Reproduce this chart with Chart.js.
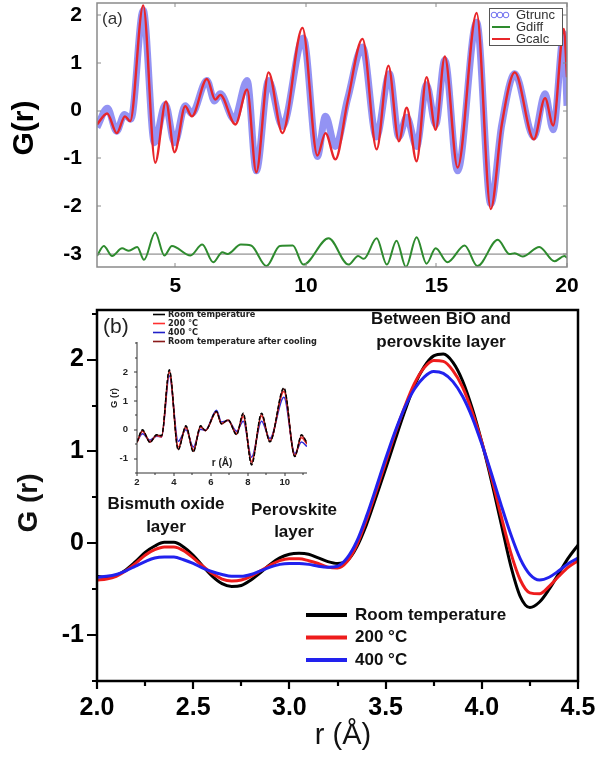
<!DOCTYPE html>
<html><head><meta charset="utf-8">
<script src="https://cdn.jsdelivr.net/npm/chart.js@4"></script>
<style>
html,body{margin:0;padding:0;background:#fff;}
#wrap{position:relative;width:598px;height:763px;overflow:hidden;background:#fff}
canvas{position:absolute;}
</style></head><body>
<div id="wrap">
<canvas id="ca" width="598" height="300" style="left:0;top:0;width:598px;height:300px"></canvas>
<canvas id="cb" width="598" height="463" style="left:0;top:300px;width:598px;height:463px"></canvas>
<canvas id="ci" width="215" height="190" style="left:100px;top:305px;width:215px;height:190px"></canvas>
</div>
<script>
// ---------- Panel (a) data ----------
const calcR = [2.0,2.39,2.76,3.07,3.27,3.77,4.23,4.64,4.97,5.38,5.63,6.21,6.53,6.72,7.30,7.75,8.10,8.57,9.10,9.87,10.44,10.75,11.13,11.6,12.17,12.71,13.16,13.56,13.86,14.24,14.62,14.97,15.32,15.81,16.54,17.08,17.5,18.0,18.73,19.16,19.47,19.88,20.0];
const calcG = [-0.29,-0.06,-0.47,-0.12,-0.22,2.2,-1.09,0.19,-0.87,0.09,-0.12,0.66,0.23,0.33,-0.29,0.44,-1.29,0.80,-0.47,1.73,-0.94,-0.47,-1.02,0.2,1.50,-0.81,0.94,-0.64,0.06,-1.06,0.70,-0.40,1.13,-1.19,2.04,-2.06,-0.3,0.80,-0.60,0.26,-0.31,1.71,0.7];
const truncR = [2.0,2.4,2.75,3.05,3.3,3.77,4.2,4.62,4.97,5.38,5.63,6.21,6.5,6.72,7.25,7.75,8.10,8.57,9.10,9.9,10.44,10.75,11.13,11.6,12.17,12.7,13.2,13.56,13.86,14.24,14.62,14.97,15.32,15.81,16.54,17.08,17.5,18.0,18.73,19.16,19.47,19.88,20.0];
const truncG = [-0.35,0.05,-0.43,-0.08,-0.18,2.1,-0.67,0.13,-0.67,0.1,-0.06,0.63,0.2,0.35,-0.18,0.63,-1.26,0.63,-0.33,1.52,-0.96,-0.12,-0.75,0.25,1.33,-0.55,0.77,-0.55,-0.14,-0.75,0.54,-0.29,1.06,-1.26,1.85,-1.95,-0.3,0.77,-0.55,0.35,-0.40,1.6,0.1];
const diffR = [2.0,2.26,2.58,2.96,3.22,3.54,3.8,4.23,4.58,4.87,5.58,6.03,6.45,6.8,7.0,7.51,7.9,8.49,9.0,9.5,9.9,10.87,11.63,12.0,12.22,12.71,13.1,13.47,13.83,14.24,14.62,14.97,15.42,16.08,16.57,17.35,17.8,18.0,18.3,18.94,19.52,19.9,20.0];
const diffG = [-3.04,-2.83,-3.04,-2.88,-2.93,-2.85,-3.12,-2.55,-3.03,-2.83,-3.03,-2.8,-3.17,-2.96,-3.0,-2.8,-2.82,-3.25,-2.83,-2.82,-3.22,-2.67,-3.22,-3.04,-3.1,-2.67,-3.22,-2.72,-3.27,-2.65,-3.2,-2.88,-3.17,-2.82,-3.25,-2.7,-3.0,-2.98,-3.05,-2.85,-3.15,-3.04,-3.08];
const baseLineG = -3.0;
const aXTicks = [5,10,15,20];
const aYTicks = [-3,-2,-1,0,1,2];
const aLegend = ['Gtrunc','Gdiff','Gcalc'];

// ---------- Panel (b) data ----------
const rB = [2.00,2.05,2.10,2.15,2.20,2.25,2.30,2.35,2.40,2.45,2.50,2.55,2.60,2.65,2.70,2.75,2.80,2.85,2.90,2.95,3.00,3.05,3.10,3.15,3.20,3.25,3.30,3.35,3.40,3.45,3.50,3.55,3.60,3.65,3.70,3.75,3.80,3.85,3.90,3.95,4.00,4.05,4.10,4.15,4.20,4.25,4.30,4.35,4.40,4.45,4.50];
const gRT  = [-0.36,-0.37,-0.35,-0.29,-0.20,-0.10,-0.03,0.01,0.01,-0.04,-0.13,-0.25,-0.36,-0.44,-0.47,-0.46,-0.40,-0.32,-0.23,-0.16,-0.12,-0.11,-0.12,-0.16,-0.20,-0.22,-0.19,-0.04,0.20,0.50,0.81,1.13,1.44,1.72,1.92,2.04,2.06,1.97,1.77,1.47,1.10,0.68,0.22,-0.24,-0.58,-0.70,-0.64,-0.50,-0.33,-0.16,-0.02];
const g200 = [-0.40,-0.39,-0.36,-0.30,-0.22,-0.13,-0.07,-0.04,-0.04,-0.08,-0.16,-0.25,-0.33,-0.39,-0.41,-0.40,-0.36,-0.30,-0.24,-0.19,-0.17,-0.17,-0.19,-0.22,-0.26,-0.27,-0.20,-0.02,0.25,0.56,0.88,1.20,1.49,1.74,1.91,1.99,1.98,1.88,1.70,1.43,1.10,0.72,0.30,-0.10,-0.40,-0.54,-0.55,-0.47,-0.36,-0.26,-0.19];
const g400 = [-0.37,-0.36,-0.34,-0.30,-0.25,-0.20,-0.16,-0.15,-0.15,-0.18,-0.22,-0.27,-0.31,-0.34,-0.36,-0.36,-0.34,-0.30,-0.26,-0.23,-0.22,-0.22,-0.23,-0.25,-0.26,-0.25,-0.16,0.02,0.29,0.60,0.92,1.22,1.48,1.68,1.81,1.87,1.85,1.76,1.60,1.37,1.08,0.76,0.42,0.10,-0.17,-0.34,-0.40,-0.37,-0.30,-0.22,-0.16];
const bXTicks = [2.0,2.5,3.0,3.5,4.0,4.5];
const bXMinor = [2.25,2.75,3.25,3.75,4.25];
const bYTicks = [-1,0,1,2];
const bYMinor = [-1.5,-0.5,0.5,1.5,2.5];
const bLegend = ['Room temperature','200 \u00B0C','400 \u00B0C'];

// ---------- Inset data ----------
const insR    = [2.0,2.3,2.7,3.06,3.33,3.75,4.23,4.65,5.05,5.44,5.7,6.3,6.57,6.93,7.39,7.75,8.2,8.74,9.19,9.95,10.54,10.9,11.2];
const insRT   = [-0.42,0.0,-0.44,-0.17,-0.2,2.09,-0.70,0.14,-0.77,0.14,-0.02,0.64,0.21,0.35,-0.17,0.58,-1.22,0.58,-0.42,1.46,-0.93,-0.17,-0.45];
const ins200  = [-0.44,-0.05,-0.41,-0.2,-0.25,2.0,-0.6,0.08,-0.7,0.1,-0.03,0.62,0.22,0.33,-0.12,0.45,-1.1,0.48,-0.38,1.33,-0.9,-0.28,-0.5];
const ins400  = [-0.4,-0.14,-0.36,-0.22,-0.25,1.88,-0.4,0.0,-0.6,0.02,-0.02,0.68,0.27,0.32,-0.05,0.3,-0.95,0.3,-0.3,1.13,-0.82,-0.42,-0.58];
const insCool = [-0.43,-0.02,-0.43,-0.18,-0.22,2.05,-0.68,0.12,-0.75,0.12,-0.03,0.63,0.2,0.34,-0.16,0.55,-1.18,0.55,-0.41,1.42,-0.92,-0.2,-0.47];
const iXTicks = [2,4,6,8,10];
const iXMinor = [3,5,7,9,11];
const iYTicks = [-1,0,1,2];
const iYMinor = [-1.5,-0.5,0.5,1.5,2.5,3];
const iLegend = ['Room temperature','200 \u00B0C','400 \u00B0C','Room temperature after cooling'];

const F = "'Liberation Sans', Arial, Helvetica, sans-serif";
const FD = "'DejaVu Sans', 'Liberation Sans', sans-serif";
const pts = (xs, ys) => xs.map((x,i)=>({x:x, y:ys[i]}));

function fixTicks(vals){ return s => { s.ticks = vals.map(v=>({value:v})); }; }
function text(ctx, s, x, y, font, color, align, rot){
  ctx.save(); ctx.font = font; ctx.fillStyle = color; ctx.textAlign = align||'center'; ctx.textBaseline='middle';
  ctx.translate(x,y); if(rot) ctx.rotate(rot); ctx.fillText(s,0,0); ctx.restore();
}
function marks(chart, axis, vals, len, side, color, lw){
  const ca = chart.chartArea, ctx = chart.ctx, s = chart.scales[axis];
  ctx.save(); ctx.strokeStyle = color; ctx.lineWidth = lw; ctx.beginPath();
  vals.forEach(v=>{
    const p = Math.round(s.getPixelForValue(v));
    if(side==='bottom'){ctx.moveTo(p,ca.bottom);ctx.lineTo(p,ca.bottom+len);}
    if(side==='top'){ctx.moveTo(p,ca.top);ctx.lineTo(p,ca.top+len);}
    if(side==='left'){ctx.moveTo(ca.left,p);ctx.lineTo(ca.left+len,p);}
    if(side==='right'){ctx.moveTo(ca.right,p);ctx.lineTo(ca.right+len,p);}
  });
  ctx.stroke(); ctx.restore();
}
function noPad(s){ s.paddingLeft=0; s.paddingRight=0; s.paddingTop=0; s.paddingBottom=0; }
const NOGRID = {display:false, drawTicks:false, tickLength:0};

// ================= Panel (a) =================
new Chart(document.getElementById('ca'), {
  type:'line',
  data:{datasets:[
    {label:'Gcalc', data:pts(calcR,calcG), borderColor:'#e8262a', borderWidth:2.4, pointRadius:0, cubicInterpolationMode:'monotone', order:1},
    {label:'Gdiff', data:pts(diffR,diffG), borderColor:'#2e8b2e', borderWidth:2, pointRadius:0, cubicInterpolationMode:'monotone', order:2},
    {label:'base', data:[{x:2,y:baseLineG},{x:20,y:baseLineG}], borderColor:'#777', borderWidth:1, pointRadius:0, order:3},
    {label:'Gtrunc', data:pts(truncR,truncG), borderColor:'rgba(75,75,235,0.6)', borderWidth:7, pointRadius:0, cubicInterpolationMode:'monotone', order:4}
  ]},
  options:{
    responsive:false, animation:false, events:[],
    layout:{padding:{left:0,right:31,top:3,bottom:0}},
    plugins:{legend:{display:false}, tooltip:{enabled:false}},
    scales:{
      x:{type:'linear', min:2, max:20, afterBuildTicks:fixTicks(aXTicks),
         afterFit:s=>{s.height=33; noPad(s);},
         grid:NOGRID, border:{display:false},
         ticks:{font:{family:F,size:21,weight:'bold'}, color:'#000', padding:7, maxRotation:0, autoSkip:false}},
      y:{type:'linear', min:-3.27, max:2.25, afterBuildTicks:fixTicks(aYTicks),
         afterFit:s=>{s.width=97; noPad(s);},
         grid:NOGRID, border:{display:false},
         ticks:{font:{family:F,size:21,weight:'bold'}, color:'#000', padding:15, autoSkip:false}}
    }
  },
  plugins:[{id:'decoA', afterDraw(chart){
    const ctx = chart.ctx, ca = chart.chartArea;
    ctx.save(); ctx.strokeStyle='#8a8a8a'; ctx.lineWidth=1.5;
    ctx.strokeRect(ca.left, ca.top, ca.right-ca.left, ca.bottom-ca.top); ctx.restore();
    marks(chart,'x',aXTicks,-4,'bottom','#8a8a8a',1);
    marks(chart,'x',aXTicks,4,'top','#8a8a8a',1);
    marks(chart,'y',aYTicks,4,'left','#8a8a8a',1);
    marks(chart,'y',aYTicks,-4,'right','#8a8a8a',1);
    text(ctx,'(a)',102,19,'17px '+F,'#333','left');
    text(ctx,'G(r)',25,128,'bold 30px '+F,'#000','center',-Math.PI/2);
    ctx.save(); ctx.fillStyle='#fff'; ctx.fillRect(489,8,73,37);
    ctx.strokeStyle='#555'; ctx.lineWidth=1; ctx.strokeRect(489.5,8.5,73,37); ctx.restore();
    const ds = chart.data.datasets;
    ctx.save(); ctx.strokeStyle='rgba(75,75,235,0.8)'; ctx.lineWidth=1;
    [494,500,506].forEach(cx=>{ctx.beginPath();ctx.arc(cx,15,2.8,0,Math.PI*2);ctx.stroke();});
    ctx.strokeStyle=ds[1].borderColor; ctx.lineWidth=2; ctx.beginPath(); ctx.moveTo(492,27); ctx.lineTo(510,27); ctx.stroke();
    ctx.strokeStyle=ds[0].borderColor; ctx.lineWidth=2; ctx.beginPath(); ctx.moveTo(492,39); ctx.lineTo(510,39); ctx.stroke();
    ctx.restore();
    aLegend.forEach((t,i)=>text(ctx,t,516,15+12*i,'13px '+F,'#333','left'));
  }}]
});

// ================= Panel (b) =================
new Chart(document.getElementById('cb'), {
  type:'line',
  data:{datasets:[
    {label:bLegend[2], data:pts(rB,g400), borderColor:'#2222ee', borderWidth:3, pointRadius:0, cubicInterpolationMode:'monotone'},
    {label:bLegend[1], data:pts(rB,g200), borderColor:'#ee1c1c', borderWidth:3, pointRadius:0, cubicInterpolationMode:'monotone'},
    {label:bLegend[0], data:pts(rB,gRT), borderColor:'#000000', borderWidth:3, pointRadius:0, cubicInterpolationMode:'monotone'}
  ]},
  options:{
    responsive:false, animation:false, events:[],
    layout:{padding:{left:0,right:20,top:10,bottom:0}},
    plugins:{legend:{display:false}, tooltip:{enabled:false}},
    scales:{
      x:{type:'linear', min:2, max:4.5, afterBuildTicks:fixTicks(bXTicks),
         afterFit:s=>{s.height=82; noPad(s);},
         grid:NOGRID, border:{display:false},
         ticks:{font:{family:F,size:25,weight:'bold'}, color:'#000', padding:12, maxRotation:0, autoSkip:false, callback:v=>v.toFixed(1)}},
      y:{type:'linear', min:-1.5, max:2.54, afterBuildTicks:fixTicks(bYTicks),
         afterFit:s=>{s.width=97; noPad(s);},
         grid:NOGRID, border:{display:false},
         ticks:{font:{family:F,size:25,weight:'bold'}, color:'#000', padding:13, autoSkip:false}}
    }
  },
  plugins:[{id:'decoB', afterDraw(chart){
    const ctx = chart.ctx, ca = chart.chartArea;
    ctx.save(); ctx.strokeStyle='#000'; ctx.lineWidth=2.5;
    ctx.strokeRect(ca.left, ca.top, ca.right-ca.left, ca.bottom-ca.top); ctx.restore();
    marks(chart,'x',bXTicks,8,'bottom','#000',2.2);
    marks(chart,'x',bXMinor,5,'bottom','#000',2.2);
    marks(chart,'y',bYTicks,-10,'left','#000',2.2);
    marks(chart,'y',bYMinor,-5,'left','#000',2.2);
    text(ctx,'(b)',103,27,'21px '+F,'#222','left');
    const B = 'bold 17px '+F;
    text(ctx,'Between BiO and',441,19,B,'#111');
    text(ctx,'perovskite layer',441,42,B,'#111');
    text(ctx,'Bismuth oxide',166,204,B,'#111');
    text(ctx,'layer',166,227,B,'#111');
    text(ctx,'Perovskite',294,210,B,'#111');
    text(ctx,'layer',294,232,B,'#111');
    text(ctx,'G (r)',29,203,'bold 28px '+F,'#111','center',-Math.PI/2);
    text(ctx,'r (\u00C5)',343,436,'29px '+F,'#111','center');
    const ds = chart.data.datasets;
    const order = [2,1,0];
    order.forEach((di,i)=>{
      const y = 315 + 22.5*i;
      ctx.save(); ctx.strokeStyle=ds[di].borderColor; ctx.lineWidth=4;
      ctx.beginPath(); ctx.moveTo(306,y); ctx.lineTo(347,y); ctx.stroke(); ctx.restore();
      text(ctx,bLegend[i],355,y,B,'#111','left');
    });
    const iCol = ['#000','#ff3030','#2020c8','#8b1a1a'];
    const iy = [14.5,23.5,32.5,41.5];
    iLegend.forEach((t,i)=>{
      ctx.save(); ctx.strokeStyle=iCol[i]; ctx.lineWidth=1.6;
      ctx.beginPath(); ctx.moveTo(153,iy[i]); ctx.lineTo(165,iy[i]); ctx.stroke(); ctx.restore();
      text(ctx,t,168,iy[i],'bold 8.2px '+FD,'#222','left');
    });
  }}]
});

// ================= Inset =================
new Chart(document.getElementById('ci'), {
  type:'line',
  data:{datasets:[
    {label:iLegend[0], data:pts(insR,insRT), borderColor:'#000', borderWidth:1.4, pointRadius:0, cubicInterpolationMode:'monotone', borderDash:[4,2]},
    {label:iLegend[3], data:pts(insR,insCool), borderColor:'#8b1a1a', borderWidth:1.5, pointRadius:0, cubicInterpolationMode:'monotone'},
    {label:iLegend[1], data:pts(insR,ins200), borderColor:'#ff3030', borderWidth:1.5, pointRadius:0, cubicInterpolationMode:'monotone'},
    {label:iLegend[2], data:pts(insR,ins400), borderColor:'#2a2ad8', borderWidth:1.5, pointRadius:0, cubicInterpolationMode:'monotone'}
  ]},
  options:{
    responsive:false, animation:false, events:[],
    layout:{padding:{left:0,right:8,top:37,bottom:0}},
    plugins:{legend:{display:false}, tooltip:{enabled:false}},
    scales:{
      x:{type:'linear', min:2, max:11.2, afterBuildTicks:fixTicks(iXTicks),
         afterFit:s=>{s.height=22; noPad(s);},
         grid:NOGRID, border:{display:false},
         ticks:{font:{family:F,size:9.5,weight:'bold'}, color:'#222', padding:4, maxRotation:0, autoSkip:false}},
      y:{type:'linear', min:-1.5, max:3.05, afterBuildTicks:fixTicks(iYTicks),
         afterFit:s=>{s.width=37; noPad(s);},
         grid:NOGRID, border:{display:false},
         ticks:{font:{family:F,size:9.5,weight:'bold'}, color:'#222', padding:9, autoSkip:false}}
    }
  },
  plugins:[{id:'decoI', afterDraw(chart){
    const ctx = chart.ctx, ca = chart.chartArea;
    ctx.save(); ctx.strokeStyle='#333'; ctx.lineWidth=1;
    ctx.beginPath(); ctx.moveTo(ca.left,ca.top); ctx.lineTo(ca.left,ca.bottom); ctx.lineTo(ca.right,ca.bottom); ctx.stroke(); ctx.restore();
    marks(chart,'x',iXTicks,3,'bottom','#333',1);
    marks(chart,'x',iXMinor,2,'bottom','#333',1);
    marks(chart,'y',iYTicks,-3,'left','#333',1);
    marks(chart,'y',iYMinor,-2,'left','#333',1);
    text(ctx,'G (r)',14,93,'bold 9.5px '+F,'#222','center',-Math.PI/2);
    text(ctx,'r (\u00C5)',122,158,'bold 10px '+F,'#222','center');
  }}]
});
</script>
</body></html>
